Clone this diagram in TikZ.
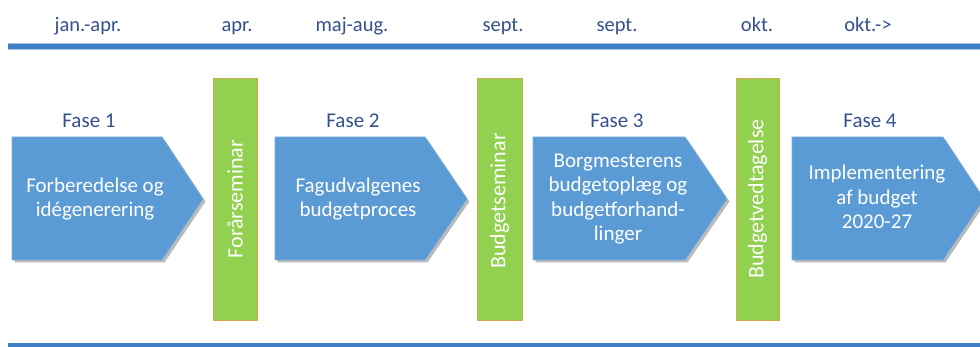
\documentclass[tikz,border=0pt]{standalone}
\usepackage{fontspec}
\setmainfont{Carlito}
\usetikzlibrary{shadows}
\definecolor{lineblue}{HTML}{3F7DC4}
\definecolor{lineedge}{HTML}{A9C4E6}
\definecolor{arrowblue}{HTML}{5B9BD5}
\definecolor{bargreen}{HTML}{92D050}
\definecolor{baredge}{HTML}{D6A84A}
\definecolor{labelblue}{HTML}{34508F}
\tikzset{
  toplabel/.style={text=labelblue, font=\fontsize{20.5}{24}\selectfont, anchor=base, inner sep=0pt},
  faselabel/.style={text=labelblue, font=\fontsize{21}{25}\selectfont, anchor=base, inner sep=0pt},
  chev/.style={fill=arrowblue, draw=arrowblue!80!white, line width=0.6pt,
    drop shadow={shadow xshift=2.5pt, shadow yshift=-2.5pt, fill=black!45, opacity=0.6}},
  chevtext/.style={text=white, font=\fontsize{21}{24.5}\selectfont, align=center, inner sep=0pt},
  greenbar/.style={fill=bargreen, draw=baredge, line width=0.8pt},
  bartext/.style={text=white, font=\fontsize{22}{24}\selectfont, rotate=90, inner sep=0pt},
  tline/.style={draw=lineblue, line width=5pt},
  tlineedge/.style={draw=lineedge, line width=6.5pt}
}
\begin{document}
\begin{tikzpicture}[x=1pt,y=-1pt]
\useasboundingbox (0,0) rectangle (980,347);
% timeline lines
\coordinate (tl) at (8,46.5);
\coordinate (tr) at (985,46.5);
\coordinate (bl) at (8,346);
\coordinate (br) at (985,346);
\draw[tlineedge] (tl) -- (tr);
\draw[tline] (tl) -- (tr);
\draw[tlineedge] (bl) -- (br);
\draw[tline] (bl) -- (br);
% top labels
\node[toplabel] (m1) at (88,32) {jan.-apr.};
\node[toplabel] (m2) at (237,32) {apr.};
\node[toplabel] (m3) at (352,32) {maj-aug.};
\node[toplabel] (m4) at (503,32) {sept.};
\node[toplabel] (m5) at (617,32) {sept.};
\node[toplabel] (m6) at (757,32) {okt.};
\node[toplabel] (m7) at (868,32) {okt.->};
% phase labels
\node[faselabel] (f1) at (89,128) {Fase 1};
\node[faselabel] (f2) at (353,128) {Fase 2};
\node[faselabel] (f3) at (617,128) {Fase 3};
\node[faselabel] (f4) at (870,128) {Fase 4};
% chevrons
\path[chev] (12,137) -- (162,137) -- (203,199) -- (162,260) -- (12,260) -- cycle;
\path[chev] (275,137) -- (425,137) -- (467,199) -- (425,260) -- (275,260) -- cycle;
\path[chev] (533,137) -- (685,137) -- (727,199) -- (685,260) -- (533,260) -- cycle;
\path[chev] (792,137) -- (943,137) -- (984,199) -- (943,260) -- (792,260) -- cycle;
\node[chevtext] (c1) at (95,199) {Forberedelse og\\idégenerering};
\node[chevtext] (c2) at (358,199) {Fagudvalgenes\\budgetproces};
\node[chevtext] (c3) at (618,199) {Borgmesterens\\budgetoplæg og\\budgetforhand-\\linger};
\node[chevtext] (c4) at (877,197) {Implementering\\af budget\\2020-27};
% green bars
\path[greenbar] (213,78) rectangle (257,320);
\path[greenbar] (477,78) rectangle (522,320);
\path[greenbar] (736,78) rectangle (779,320);
\node[bartext] (b1) at (235,199) {Forårseminar};
\node[bartext] (b2) at (499.5,201) {Budgetseminar};
\node[bartext] (b3) at (757.5,199) {Budgetvedtagelse};
\end{tikzpicture}
\end{document}
